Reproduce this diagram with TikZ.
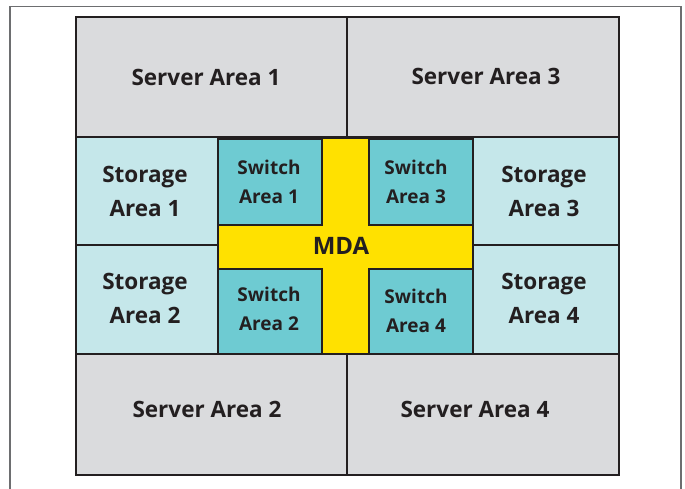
\documentclass[tikz,border=0pt]{standalone}
\usepackage{fontspec}
\setmainfont{Open Sans}
\definecolor{servergray}{HTML}{DADBDD}
\definecolor{storecyan}{HTML}{C5E7EA}
\definecolor{switchteal}{HTML}{6ECBD2}
\definecolor{mdayellow}{HTML}{FFE100}
\definecolor{ink}{HTML}{231F20}
\definecolor{framegray}{HTML}{6D6E70}
\begin{document}
\begin{tikzpicture}[x=1pt,y=-1pt,
  area/.style={draw=ink,line width=1.3pt,rectangle,inner sep=0pt,outer sep=0pt,anchor=north west},
  server/.style={area,fill=servergray},
  storage/.style={area,fill=storecyan},
  switchbox/.style={area,fill=switchteal},
  mda/.style={area,fill=mdayellow},
  lbl/.style={font=\bfseries\fontsize{22.5}{34}\selectfont,text=ink,align=center,inner sep=0pt},
  slbl/.style={lbl,font=\bfseries\fontsize{19}{29}\selectfont},
  mlbl/.style={lbl,font=\bfseries\fontsize{24}{30}\selectfont}]
\useasboundingbox (0,0) rectangle (685,489);
% outer frame
\draw[framegray,line width=1.5pt] (10,489) -- (10,6.5) -- (681,6.5) -- (681,489);
% server areas
\node[server,minimum width=271pt,minimum height=120pt] (s1) at (76,17) {};
\node[server,minimum width=272pt,minimum height=120pt] (s3) at (347,17) {};
\node[server,minimum width=271pt,minimum height=121pt] (s2) at (76,354) {};
\node[server,minimum width=272pt,minimum height=121pt] (s4) at (347,354) {};
% storage areas
\node[storage,minimum width=142pt,minimum height=108pt] (st1) at (76,137) {};
\node[storage,minimum width=142pt,minimum height=109pt] (st2) at (76,245) {};
\node[storage,minimum width=146pt,minimum height=108pt] (st3) at (473,137) {};
\node[storage,minimum width=146pt,minimum height=109pt] (st4) at (473,245) {};
% MDA
\node[mda,minimum width=255pt,minimum height=215pt] (mda) at (218,138.5) {};
% switch areas
\node[switchbox,minimum width=104pt,minimum height=86pt] (sw1) at (218,139) {};
\node[switchbox,minimum width=104pt,minimum height=86pt] (sw3) at (369,139) {};
\node[switchbox,minimum width=104pt,minimum height=85pt] (sw2) at (218,269) {};
\node[switchbox,minimum width=104pt,minimum height=85pt] (sw4) at (369,269) {};
% labels
\node[lbl] at (206,77) {Server Area 1};
\node[lbl] at (486,76) {Server Area 3};
\node[lbl] at (207,409) {Server Area 2};
\node[lbl] at (475,409) {Server Area 4};
\node[lbl] at (145,191) {Storage\\Area 1};
\node[lbl] at (145,298) {Storage\\Area 2};
\node[lbl] at (544,191) {Storage\\Area 3};
\node[lbl] at (544,298) {Storage\\Area 4};
\node[slbl] at (269,182) {Switch\\Area 1};
\node[slbl] at (269,309) {Switch\\Area 2};
\node[slbl] at (416,182) {Switch\\Area 3};
\node[slbl] at (416,311) {Switch\\Area 4};
\node[mlbl] at (341,246) {MDA};
\end{tikzpicture}
\end{document}
